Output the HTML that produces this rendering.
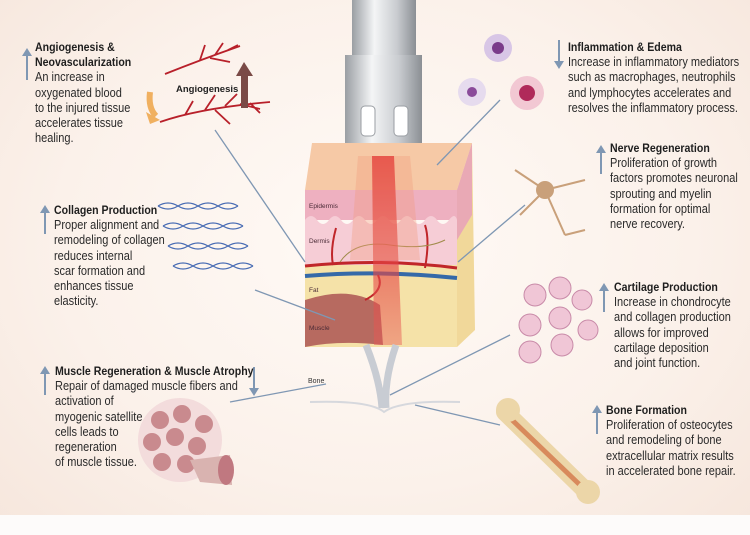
<!DOCTYPE html>
<html><head><meta charset="utf-8"><style>
body{margin:0;width:750px;height:535px;overflow:hidden;background:#fbf3ee;position:relative;font-family:"Liberation Sans",sans-serif;color:#2a2a2a}
.bg{position:absolute;left:0;top:0;width:750px;height:535px;background:radial-gradient(ellipse at 50% 45%,#fffaf6 0%,#fbf1ea 60%,#f6e6dc 100%)}
.t{position:absolute;font-size:12.5px;line-height:15.2px;white-space:nowrap;transform:scaleX(0.88);transform-origin:0 0}
.t b{font-size:12px;color:#1e1e1e}
.ar{position:absolute;width:2px;background:#7f97b3}
.ar:before{content:"";position:absolute;left:-4px;border-left:5px solid transparent;border-right:5px solid transparent}
.up:before{top:-7px;border-bottom:8px solid #7f97b3}
.dn:before{bottom:-7px;border-top:8px solid #7f97b3}
svg{position:absolute;left:0;top:0}
</style></head><body>
<div class="bg"></div>
<div style="position:absolute;left:0;top:515px;width:750px;height:20px;background:#fdfbfa"></div>
<svg width="750" height="535" viewBox="0 0 750 535">
<defs>
<linearGradient id="cyl" x1="0" x2="1"><stop offset="0" stop-color="#9a9ea3"/><stop offset=".35" stop-color="#f4f5f6"/><stop offset=".7" stop-color="#c9ccd0"/><stop offset="1" stop-color="#8b8f94"/></linearGradient>
<linearGradient id="beam" x1="0" y1="0" x2="0" y2="1"><stop offset="0" stop-color="#e0262a"/><stop offset="1" stop-color="#e85a55" stop-opacity=".5"/></linearGradient>
</defs>
<rect x="352" y="0" width="64" height="55" fill="url(#cyl)"/>
<path d="M345 55 H422 V148 Q422 156 414 156 H353 Q345 156 345 148Z" fill="url(#cyl)"/>
<rect x="361" y="106" width="14" height="30" rx="4" fill="#fff" stroke="#9a9ea3"/>
<rect x="394" y="106" width="14" height="30" rx="4" fill="#fff" stroke="#9a9ea3"/>
<path d="M312 143 L472 143 L457 190 L305 190Z" fill="#f6c9a6"/>
<path d="M457 190 L472 143 L475 330 L457 347Z" fill="#f1d89a"/>
<path d="M457 190 L472 143 L472 215 L457 240Z" fill="#e9a9b5"/>
<rect x="305" y="190" width="152" height="30" fill="#eeb0c0"/>
<path d="M305 220 q6 -8 12 0 t12 0 t12 0 t12 0 t12 0 t12 0 t12 0 t12 0 t12 0 t12 0 t12 0 t12 0 t8 0 V265 H305Z" fill="#f6cdd6"/>
<rect x="305" y="265" width="152" height="82" fill="#f5e2a8"/>
<path d="M305 300 Q350 285 380 305 L383 345 Q340 340 305 347Z" fill="#b76a60"/>
<path d="M305 266 Q380 258 457 268" stroke="#c0262a" stroke-width="3" fill="none"/>
<path d="M305 276 Q380 270 457 278" stroke="#3569a8" stroke-width="4" fill="none"/>
<path d="M333 265 Q330 250 336 228 M425 268 Q430 240 425 225 M378 275 Q385 290 365 300" stroke="#c0262a" stroke-width="2" fill="none"/>
<path d="M340 262 Q355 240 390 245 T445 240" stroke="#a08b4a" stroke-width="1" fill="none"/>
<path d="M372 156 H394 L402 345 H374Z" fill="url(#beam)" opacity=".9"/>
<path d="M358 156 H410 L420 260 H350Z" fill="#f29a7a" opacity=".35"/>
<path d="M366 345 Q380 380 382 408 M396 345 Q384 380 386 408" stroke="#c8ccd3" stroke-width="7" fill="none"/>
<path d="M310 402 Q370 400 384 412 Q400 400 460 402" stroke="#d6d8dd" stroke-width="2" fill="none"/>
<text x="308" y="383" font-size="7" font-family="Liberation Sans" fill="#333">Bone</text>
<g font-family="Liberation Sans" font-size="6.5" fill="#4a2a36"><text x="309" y="208">Epidermis</text><text x="309" y="243">Dermis</text><text x="309" y="292">Fat</text><text x="309" y="330">Muscle</text></g>
<g stroke="#7f97b3" stroke-width="1.3" fill="none">
<path d="M215 130 L305 262"/><path d="M500 100 L437 165"/><path d="M525 205 L458 262"/><path d="M255 290 L335 320"/><path d="M230 402 L326 384"/><path d="M510 335 L390 395"/><path d="M500 425 L415 405"/>
</g>
<g stroke="#b8202a" fill="none" stroke-width="1.8">
<path d="M165 74 Q200 60 240 46"/><path d="M200 60 l5 -15 M215 55 l8 -12 M228 50 l10 -5 M210 58 l20 4"/>
<path d="M160 122 Q200 108 270 102"/><path d="M185 115 l8 -14 M205 110 l10 -15 M225 106 l12 -12 M240 104 l20 5 M215 110 l15 14 M250 103 l10 10"/>
</g>
<path d="M150 92 Q148 108 156 116" stroke="#f0b060" stroke-width="6" fill="none"/><path d="M146 112 L160 120 L150 124Z" fill="#f0b060"/>
<rect x="241" y="74" width="7" height="34" fill="#7a4a46"/><path d="M236 76 L244 62 L253 76Z" fill="#7a4a46"/>
<text x="176" y="92" font-size="9.5" font-weight="bold" font-family="Liberation Sans" fill="#222">Angiogenesis</text>
<g stroke="#4a6db4" stroke-width="1.3" fill="none">
<path d="M158 206 q10 -6 20 0 t20 0 t20 0 t20 0"/><path d="M158 206 q10 6 20 0 t20 0 t20 0 t20 0"/>
<path d="M163 226 q10 -6 20 0 t20 0 t20 0 t20 0"/><path d="M163 226 q10 6 20 0 t20 0 t20 0 t20 0"/>
<path d="M168 246 q10 -6 20 0 t20 0 t20 0 t20 0"/><path d="M168 246 q10 6 20 0 t20 0 t20 0 t20 0"/>
<path d="M173 266 q10 -6 20 0 t20 0 t20 0 t20 0"/><path d="M173 266 q10 6 20 0 t20 0 t20 0 t20 0"/>
</g>
<circle cx="180" cy="440" r="42" fill="#f3dcdc"/>
<g fill="#c98a8e"><circle cx="160" cy="420" r="9"/><circle cx="182" cy="414" r="9"/><circle cx="204" cy="424" r="9"/><circle cx="152" cy="442" r="9"/><circle cx="175" cy="437" r="9"/><circle cx="197" cy="446" r="9"/><circle cx="162" cy="462" r="9"/><circle cx="186" cy="464" r="9"/></g>
<path d="M190 460 L230 455 L232 485 L200 482Z" fill="#d9b3b0"/><ellipse cx="226" cy="470" rx="8" ry="15" fill="#c07880"/>
<circle cx="498" cy="48" r="14" fill="#d8c6e6"/><circle cx="498" cy="48" r="6" fill="#7a3b8a"/>
<circle cx="472" cy="92" r="14" fill="#e6dbee"/><circle cx="472" cy="92" r="5" fill="#8a4b9a"/>
<circle cx="527" cy="93" r="17" fill="#f2c8d3"/><circle cx="527" cy="93" r="8" fill="#b02a5a"/>
<g stroke="#c9a07a" stroke-width="2" fill="none"><path d="M545 190 L515 170 M545 190 L565 235 M545 190 L520 215 M545 190 L585 180 M565 235 L585 230"/></g>
<circle cx="545" cy="190" r="9" fill="#c9a07a"/>
<g fill="#f0c6d6" stroke="#c88aa8"><circle cx="535" cy="295" r="11"/><circle cx="560" cy="288" r="11"/><circle cx="582" cy="300" r="10"/><circle cx="530" cy="325" r="11"/><circle cx="560" cy="318" r="11"/><circle cx="588" cy="330" r="10"/><circle cx="530" cy="352" r="11"/><circle cx="562" cy="345" r="11"/></g>
<path d="M505 412 L585 490" stroke="#ecd6a8" stroke-width="18" stroke-linecap="round"/>
<path d="M510 418 L580 485" stroke="#d88a5c" stroke-width="5"/>
<circle cx="508" cy="410" r="12" fill="#ecd6a8"/><circle cx="588" cy="492" r="12" fill="#ecd6a8"/>
</svg>

<div class="ar up" style="left:26px;top:55px;height:25px"></div>
<div class="t" style="left:35px;top:40px"><b>Angiogenesis &amp;<br>Neovascularization</b><br>An increase in<br>oxygenated blood<br>to the injured tissue<br>accelerates tissue<br>healing.</div>

<div class="ar up" style="left:44px;top:212px;height:22px"></div>
<div class="t" style="left:54px;top:203px"><b>Collagen Production</b><br>Proper alignment and<br>remodeling of collagen<br>reduces internal<br>scar formation and<br>enhances tissue<br>elasticity.</div>

<div class="ar up" style="left:44px;top:373px;height:22px"></div>
<div class="ar dn" style="left:253px;top:367px;height:22px"></div>
<div class="t" style="left:55px;top:364px"><b>Muscle Regeneration &amp; Muscle Atrophy</b><br>Repair of damaged muscle fibers and<br>activation of<br>myogenic satellite<br>cells leads to<br>regeneration<br>of muscle tissue.</div>

<div class="ar dn" style="left:558px;top:40px;height:22px"></div>
<div class="t" style="left:568px;top:40px"><b>Inflammation &amp; Edema</b><br>Increase in inflammatory mediators<br>such as macrophages, neutrophils<br>and lymphocytes accelerates and<br>resolves the inflammatory process.</div>

<div class="ar up" style="left:600px;top:152px;height:22px"></div>
<div class="t" style="left:610px;top:141px"><b>Nerve Regeneration</b><br>Proliferation of growth<br>factors promotes neuronal<br>sprouting and myelin<br>formation for optimal<br>nerve recovery.</div>

<div class="ar up" style="left:603px;top:290px;height:22px"></div>
<div class="t" style="left:614px;top:280px"><b>Cartilage Production</b><br>Increase in chondrocyte<br>and collagen production<br>allows for improved<br>cartilage deposition<br>and joint function.</div>

<div class="ar up" style="left:596px;top:412px;height:22px"></div>
<div class="t" style="left:606px;top:403px"><b>Bone Formation</b><br>Proliferation of osteocytes<br>and remodeling of bone<br>extracellular matrix results<br>in accelerated bone repair.</div>
</body></html>
